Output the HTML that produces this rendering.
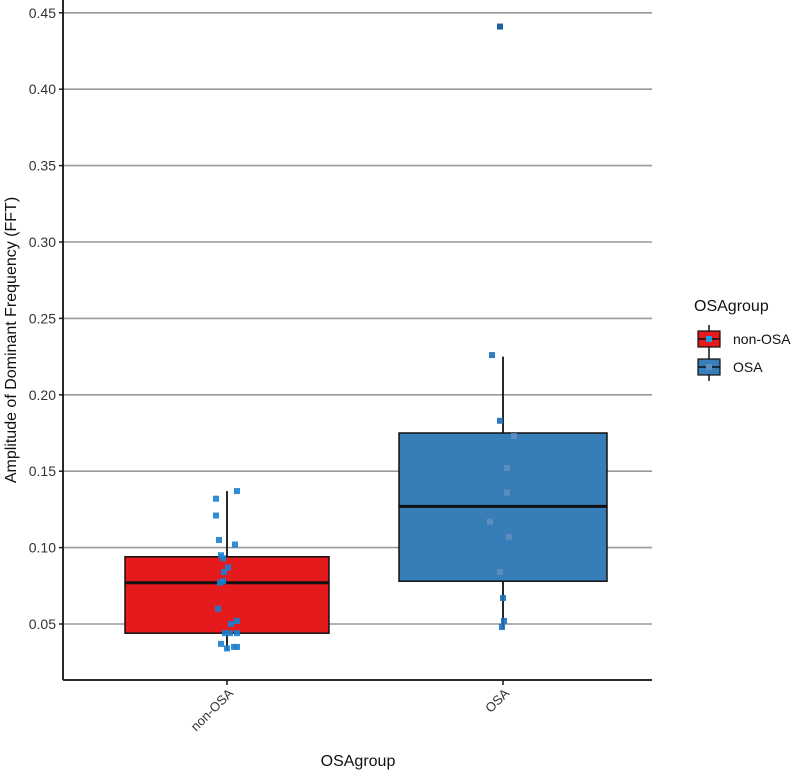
<!DOCTYPE html>
<html><head><meta charset="utf-8"><style>
html,body{margin:0;padding:0;background:#fff;}
svg{display:block;font-family:"Liberation Sans",Arial,sans-serif;}
</style></head><body>
<svg id="chart" width="800" height="772" viewBox="0 0 800 772"></svg>
<script>
const categories = ["non-OSA","OSA"];
const yTicks = [0.05,0.10,0.15,0.20,0.25,0.30,0.35,0.40,0.45];
const yTickLabels = ["0.05","0.10","0.15","0.20","0.25","0.30","0.35","0.40","0.45"];
const boxLow = [0.033,0.047];
const boxQ1 = [0.044,0.078];
const boxMedian = [0.077,0.127];
const boxQ3 = [0.094,0.175];
const boxHigh = [0.137,0.225];
const outliers = [[],[0.441]];
const fills = ["#e41a1c","#377eb8"];
const nonOsaValues = [0.137,0.132,0.121,0.105,0.102,0.095,0.093,0.087,0.084,0.077,0.078,0.060,0.052,0.050,0.044,0.044,0.044,0.037,0.034,0.035,0.035];
const nonOsaJitter = [10,-11,-11,-8,8,-6,-4,1,-3,-7,-4,-9,10,4,-2,3,10,-6,0,10,7];
const osaValues = [0.226,0.183,0.173,0.152,0.136,0.117,0.107,0.084,0.067,0.052,0.048];
const osaJitter = [-11,-3,11,4,4,-13,6,-3,0,1,-1];

const NS="http://www.w3.org/2000/svg";
const svg=document.getElementById('chart');
function mk(t,a,p){const e=document.createElementNS(NS,t);for(const k in a)e.setAttribute(k,a[k]);(p||svg).appendChild(e);return e;}
const X0=63,X1=652,Y0=0,Y1=680;
function y(v){return 624-(v-0.05)*1528;}
const xc=[227,503];
const halfW=[102,104];

const grid=mk('g',{});


yTicks.forEach((t,i)=>{
  const l=mk('line',{x1:X0,x2:X1,y1:y(t),y2:y(t),stroke:'#999',"stroke-width":1.6},grid);
  
  
  mk('line',{x1:X0-4,x2:X0,y1:y(t),y2:y(t),stroke:'#222',"stroke-width":1.5});
  const tx=mk('text',{x:X0-7,y:y(t)+5,"text-anchor":"end","font-size":14,fill:'#333'});
  tx.textContent=yTickLabels[i];
  
  
});

categories.forEach((c,i)=>{
  const g=mk('g',{});
  
  
  mk('line',{x1:xc[i],x2:xc[i],y1:y(boxHigh[i]),y2:y(boxLow[i]),stroke:'#111',"stroke-width":1.8},g);
  mk('rect',{x:xc[i]-halfW[i],y:y(boxQ3[i]),width:2*halfW[i],height:y(boxQ1[i])-y(boxQ3[i]),fill:fills[i],stroke:'#111',"stroke-width":1.5},g);
  mk('line',{x1:xc[i]-halfW[i],x2:xc[i]+halfW[i],y1:y(boxMedian[i]),y2:y(boxMedian[i]),stroke:'#111',"stroke-width":3},g);
  outliers[i].forEach(v=>{
    const o=mk('rect',{x:xc[i]-6,y:y(v)-3,width:6,height:6,fill:'#1f5f9f'},g);
    
    
  });
});

const pts=mk('g',{});


nonOsaValues.forEach((v,i)=>{
  const r=mk('rect',{x:xc[0]+nonOsaJitter[i]-3,y:y(v)-3,width:6,height:6,fill:'#1a7fd0',opacity:0.9},pts);
  
  
});
osaValues.forEach((v,i)=>{
  const inside=v<boxQ3[1]&&v>boxQ1[1];
  const r=mk('rect',{x:xc[1]+osaJitter[i]-3,y:y(v)-3,width:6,height:6,fill:inside?'#5f8fc0':'#1a6fc0',opacity:0.9},pts);
  
  
});

const ax=mk('line',{x1:X0,x2:X0,y1:Y0,y2:Y1,stroke:'#111',"stroke-width":1.8});


const xa=mk('line',{x1:X0,x2:X1,y1:Y1,y2:Y1,stroke:'#111',"stroke-width":1.8});


categories.forEach((c,i)=>{
  mk('line',{x1:xc[i],x2:xc[i],y1:Y1,y2:Y1+5,stroke:'#111',"stroke-width":1.5});
  const t=mk('text',{x:xc[i]+7,y:Y1+14,"text-anchor":"end","font-size":13,fill:'#333',transform:`rotate(-45 ${xc[i]+7} ${Y1+14})`});
  t.textContent=c;
  
  
});
const xt=mk('text',{x:358,y:766,"text-anchor":"middle","font-size":16,fill:'#111'});
xt.textContent='OSAgroup';


const yt=mk('text',{x:16,y:340,"text-anchor":"middle","font-size":16,fill:'#111',transform:'rotate(-90 16 340)'});
yt.textContent='Amplitude of Dominant Frequency (FFT)';



const lg=mk('g',{});


const lt=mk('text',{x:694,y:311,"font-size":16,fill:'#111'},lg);
lt.textContent='OSAgroup';


categories.forEach((c,i)=>{
  const cy=339+i*28;
  const e=mk('g',{},lg);
  
  
  mk('line',{x1:709,x2:709,y1:cy-14,y2:cy+14,stroke:'#111',"stroke-width":1.5},e);
  mk('rect',{x:698,y:cy-8,width:22,height:16,fill:fills[i],stroke:'#111',"stroke-width":1.2},e);
  mk('line',{x1:698,x2:720,y1:cy,y2:cy,stroke:'#111',"stroke-width":1.5},e);
  mk('rect',{x:706,y:cy-3,width:6,height:6,fill:i?'#5f8fc0':'#1a9fe0'},e);
  const t=mk('text',{x:733,y:cy+5,"font-size":14,fill:'#111'},e);
  t.textContent=c;
});
</script>
</body></html>
